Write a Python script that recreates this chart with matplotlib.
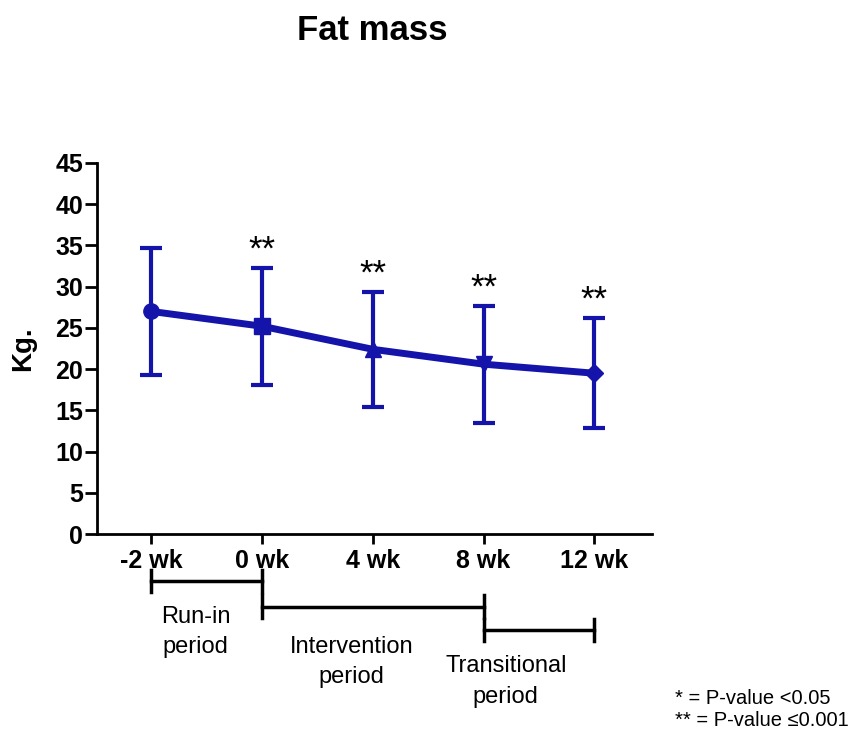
import matplotlib
matplotlib.use("Agg")
import matplotlib.pyplot as plt

plt.rcParams['font.family'] = ['Liberation Sans', 'DejaVu Sans']

# data
weeks = ["-2 wk", "0 wk", "4 wk", "8 wk", "12 wk"]
fat_mean = [27.0, 25.2, 22.4, 20.6, 19.5]
fat_sd = [7.7, 7.1, 7.0, 7.1, 6.7]
stars = ["", "**", "**", "**", "**"]
markers = ["o", "s", "^", "v", "D"]

periods = ["Run-in\nperiod", "Intervention\nperiod", "Transitional\nperiod"]
period_start = [0, 1, 3]
period_end = [1, 3, 4]

blue = "#1414AA"

fig = plt.figure(figsize=(8.56, 7.34), dpi=100)
ax = fig.add_axes([97 / 856, 1 - 534 / 734, (652 - 97) / 856, (534 - 163) / 734])

x = list(range(len(weeks)))
ax.errorbar(x, fat_mean, yerr=fat_sd, color=blue, lw=5, elinewidth=3,
            capsize=8, capthick=3, zorder=2)
for xi, yi, m in zip(x, fat_mean, markers):
    ax.plot(xi, yi, marker=m, color=blue, markersize=11 if m != "D" else 9,
            zorder=3)

for xi, yi, sd, s in zip(x, fat_mean, fat_sd, stars):
    if s:
        ax.annotate(s, (xi, yi + sd), xytext=(0, 1), textcoords="offset points",
                    ha="center", va="bottom", fontsize=25)

ax.set_xlim(-0.49, 4.52)
ax.set_ylim(0, 45)
ax.set_yticks(range(0, 46, 5))
ax.set_xticks(x)
ax.set_xticklabels(weeks)
ax.set_ylabel("Kg.", fontsize=20, fontweight="bold", labelpad=14)
for lab in ax.get_xticklabels() + ax.get_yticklabels():
    lab.set_fontweight("bold")
ax.tick_params(axis="x", labelsize=18, length=7, width=2, pad=4)
ax.tick_params(axis="y", labelsize=18, length=9, width=2, pad=1)
for side in ["top", "right"]:
    ax.spines[side].set_visible(False)
for side in ["left", "bottom"]:
    ax.spines[side].set_linewidth(2)

# period brackets below the axis
bracket_y = [-5.7, -8.8, -11.6]
label_pos = [(0.40, -11.9), (1.81, -15.5), (3.20, -17.9)]
for name, x0, x1, by, (tx, ty) in zip(periods, period_start, period_end,
                                      bracket_y, label_pos):
    ax.plot([x0, x1], [by, by], color="black", lw=2.5, clip_on=False)
    ax.plot([x0, x0], [by - 1.35, by + 1.35], color="black", lw=2.5, clip_on=False)
    ax.plot([x1, x1], [by - 1.35, by + 1.35], color="black", lw=2.5, clip_on=False)
    ax.text(tx, ty, name, ha="center", va="center", fontsize=17,
            linespacing=1.5, clip_on=False)

fig.text(372 / 856, 1 - 30 / 734, "Fat mass", ha="center", va="center",
         fontsize=25, fontweight="bold")
fig.text(675 / 856, 1 - 698 / 734, "* = P-value <0.05", ha="left",
         va="center", fontsize=14.5)
fig.text(675 / 856, 1 - 720 / 734, "** = P-value \u22640.001", ha="left",
         va="center", fontsize=14.5)

fig.savefig("out.png", dpi=100)
